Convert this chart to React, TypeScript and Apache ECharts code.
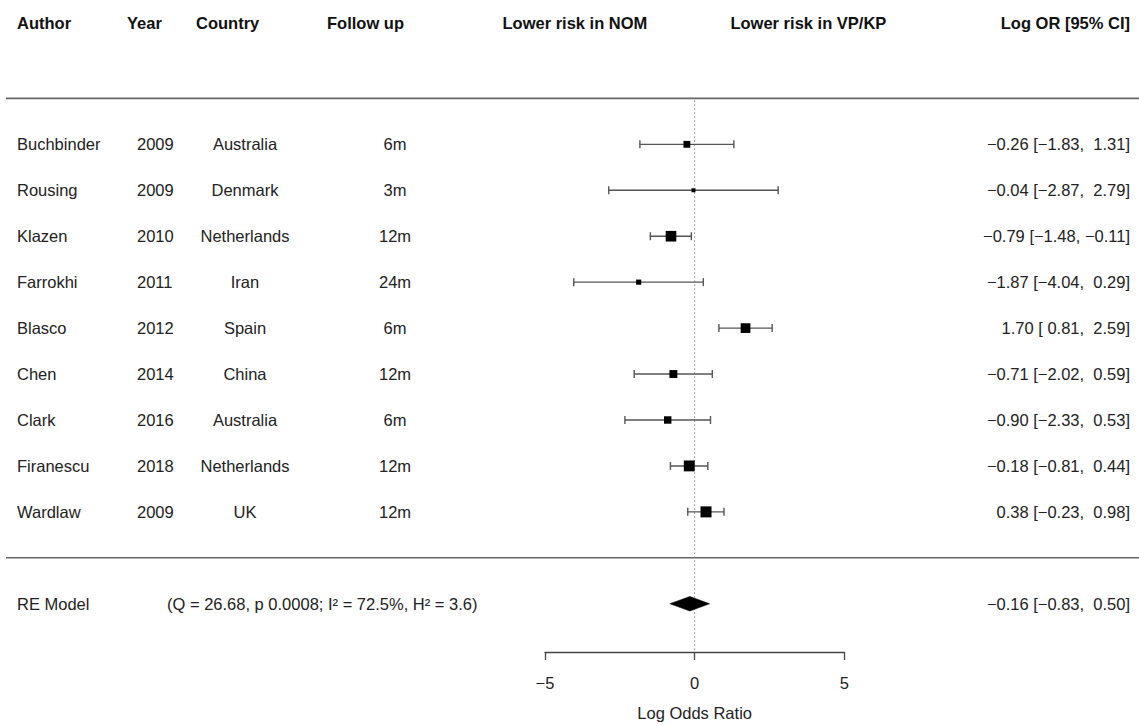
import React, { useEffect, useRef } from "react";
import * as echarts from "echarts";

// ---------- data ----------
const authors = ["Buchbinder", "Rousing", "Klazen", "Farrokhi", "Blasco", "Chen", "Clark", "Firanescu", "Wardlaw"];
const years = [2009, 2009, 2010, 2011, 2012, 2014, 2016, 2018, 2009];
const countries = ["Australia", "Denmark", "Netherlands", "Iran", "Spain", "China", "Australia", "Netherlands", "UK"];
const followUp = ["6m", "3m", "12m", "24m", "6m", "12m", "6m", "12m", "12m"];
const logOR = [-0.26, -0.04, -0.79, -1.87, 1.7, -0.71, -0.9, -0.18, 0.38];
const ciLower = [-1.83, -2.87, -1.48, -4.04, 0.81, -2.02, -2.33, -0.81, -0.23];
const ciUpper = [1.31, 2.79, -0.11, 0.29, 2.59, 0.59, 0.53, 0.44, 0.98];
const weights = [9.0, 4.3, 15.1, 6.2, 13.6, 10.7, 9.9, 15.5, 15.7];
const reEstimate = [-0.16];
const reLower = [-0.83];
const reUpper = [0.5];
const reLabel = "RE Model";
const heterogeneity = "(Q = 26.68, p 0.0008; I² = 72.5%, H² = 3.6)";
const headers = ["Author", "Year", "Country", "Follow up", "Lower risk in NOM", "Lower risk in VP/KP", "Log OR [95% CI]"];
const xTicks = [-5, 0, 5];
const xTitle = "Log Odds Ratio";

// ---------- layout / style ----------
const W = 1139;
const H = 726;
const FONT = "'Liberation Sans', Arial, Helvetica, sans-serif";
const FS = 16.5;
const TEXT = "#222";
const HEAD = "#111";
const LINE = "#555";
const ROW_HEADER = -2.65;
const ROW_RULES = [-1, authors.length];
const ROW_RE = authors.length + 1;
const ROW_AXIS = 11.05;
const X_AUTHOR = 17;
const X_YEAR = 137;
const X_COUNTRY = 245;
const X_FOLLOW = 395;
const X_HET = 167;
const X_RIGHT = 1130;
const HX_YEAR = 127;
const HX_COUNTRY = 196;
const HX_FOLLOW = 327;
const HEADER_AXIS_X = [-4, 3.8];
const RULE_LEFT = 6;
const MIN_SQ = 4;
const MAX_SQ = 11;
const DIAMOND_HALF = 7.3;
const CAP = 4;

const minus = (s: string) => s.replace(/-/g, "\u2212");
const fmt = (v: number) => minus(v.toFixed(2));
const pad = (v: number) => (v < 0 ? fmt(v) : " " + fmt(v));
const ciText = (e: number, l: number, u: number) => `${fmt(e)} [${pad(l)}, ${pad(u)}]`;

const txt = (x: number, y: number, text: string, align: string, bold = false) => ({
  type: "text",
  x,
  y,
  style: {
    text,
    fill: bold ? HEAD : TEXT,
    fontFamily: FONT,
    fontSize: FS,
    fontWeight: bold ? "bold" : "normal",
    align,
    verticalAlign: "middle",
  },
});

export default function App() {
  const ref = useRef<HTMLDivElement>(null);

  useEffect(() => {
    document.body.style.margin = "0";
    const chart = echarts.init(ref.current!, null, { renderer: "svg", width: W, height: H });
    const wMin = Math.min(...weights);
    const wMax = Math.max(...weights);
    const sq = (w: number) => MIN_SQ + ((MAX_SQ - MIN_SQ) * (w - wMin)) / (wMax - wMin);

    const option: any = {
      animation: false,
      backgroundColor: "#fff",
      grid: { left: 545, right: 294.7, top: 6.5, bottom: 73, containLabel: false },
      xAxis: {
        type: "value",
        min: xTicks[0],
        max: xTicks[xTicks.length - 1],
        interval: xTicks[1] - xTicks[0],
        name: xTitle,
        nameLocation: "middle",
        nameGap: 52,
        nameTextStyle: { fontFamily: FONT, fontSize: FS, color: TEXT },
        axisLine: { show: true, onZero: false, lineStyle: { color: "#444", width: 1.3 } },
        axisTick: { show: true, inside: false, length: 8, lineStyle: { color: "#444", width: 1.3 } },
        axisLabel: {
          fontFamily: FONT,
          fontSize: FS,
          color: TEXT,
          margin: 22,
          formatter: (v: number) => minus(String(v)),
        },
        splitLine: { show: false },
      },
      yAxis: {
        type: "value",
        inverse: true,
        min: -3,
        max: ROW_AXIS,
        show: false,
        splitLine: { show: false },
      },
      series: [
        // frame: rules, reference line, headers
        {
          type: "custom",
          clip: false,
          silent: true,
          data: [[0, 0]],
          renderItem: (params: any, api: any) => {
            const children: any[] = [];
            ROW_RULES.forEach((r) => {
              const y = api.coord([0, r])[1];
              children.push({
                type: "line",
                shape: { x1: RULE_LEFT, y1: y, x2: W, y2: y },
                style: { stroke: "#666", lineWidth: 1.6 },
              });
            });
            const top = api.coord([0, ROW_RULES[0]]);
            const bot = api.coord([0, ROW_AXIS]);
            children.push({
              type: "line",
              shape: { x1: top[0], y1: top[1] + 2, x2: bot[0], y2: bot[1] },
              style: { stroke: "#888", lineWidth: 1, lineDash: [1.5, 2.5] },
            });
            const hy = api.coord([0, ROW_HEADER])[1];
            children.push(txt(X_AUTHOR, hy, headers[0], "left", true));
            children.push(txt(HX_YEAR, hy, headers[1], "left", true));
            children.push(txt(HX_COUNTRY, hy, headers[2], "left", true));
            children.push(txt(HX_FOLLOW, hy, headers[3], "left", true));
            children.push(txt(api.coord([HEADER_AXIS_X[0], ROW_HEADER])[0], hy, headers[4], "center", true));
            children.push(txt(api.coord([HEADER_AXIS_X[1], ROW_HEADER])[0], hy, headers[5], "center", true));
            children.push(txt(X_RIGHT, hy, headers[6], "right", true));
            return { type: "group", children };
          },
        },
        // studies: text columns, CI lines, squares
        {
          type: "custom",
          clip: false,
          silent: true,
          data: logOR.map((e, i) => [e, i, ciLower[i], ciUpper[i], weights[i]]),
          encode: { x: 0, y: 1 },
          renderItem: (params: any, api: any) => {
            const i = params.dataIndex;
            const est = api.value(0);
            const row = api.value(1);
            const s = sq(api.value(4));
            const c = api.coord([est, row]);
            const l = api.coord([api.value(2), row]);
            const h = api.coord([api.value(3), row]);
            const y = c[1];
            const ls = { stroke: LINE, lineWidth: 1.4 };
            return {
              type: "group",
              children: [
                txt(X_AUTHOR, y, authors[i], "left"),
                txt(X_YEAR, y, String(years[i]), "left"),
                txt(X_COUNTRY, y, countries[i], "center"),
                txt(X_FOLLOW, y, followUp[i], "center"),
                txt(X_RIGHT, y, ciText(logOR[i], ciLower[i], ciUpper[i]), "right"),
                { type: "line", shape: { x1: l[0], y1: y, x2: h[0], y2: y }, style: ls },
                { type: "line", shape: { x1: l[0], y1: y - CAP, x2: l[0], y2: y + CAP }, style: ls },
                { type: "line", shape: { x1: h[0], y1: y - CAP, x2: h[0], y2: y + CAP }, style: ls },
                { type: "rect", shape: { x: c[0] - s / 2, y: y - s / 2, width: s, height: s }, style: { fill: "#000" } },
              ],
            };
          },
        },
        // RE model diamond
        {
          type: "custom",
          clip: false,
          silent: true,
          data: reEstimate.map((e, i) => [e, ROW_RE, reLower[i], reUpper[i]]),
          encode: { x: 0, y: 1 },
          renderItem: (params: any, api: any) => {
            const i = params.dataIndex;
            const c = api.coord([api.value(0), api.value(1)]);
            const l = api.coord([api.value(2), api.value(1)]);
            const h = api.coord([api.value(3), api.value(1)]);
            const y = c[1];
            return {
              type: "group",
              children: [
                txt(X_AUTHOR, y, reLabel, "left"),
                txt(X_HET, y, heterogeneity, "left"),
                txt(X_RIGHT, y, ciText(reEstimate[i], reLower[i], reUpper[i]), "right"),
                {
                  type: "polygon",
                  shape: { points: [[l[0], y], [c[0], y - DIAMOND_HALF], [h[0], y], [c[0], y + DIAMOND_HALF]] },
                  style: { fill: "#000", stroke: "#000", lineWidth: 0.5 },
                },
              ],
            };
          },
        },
      ],
    };
    chart.setOption(option);
    return () => chart.dispose();
  }, []);

  return <div ref={ref} style={{ position: "absolute", left: 0, top: 0, width: W, height: H, background: "#fff" }} />;
}
